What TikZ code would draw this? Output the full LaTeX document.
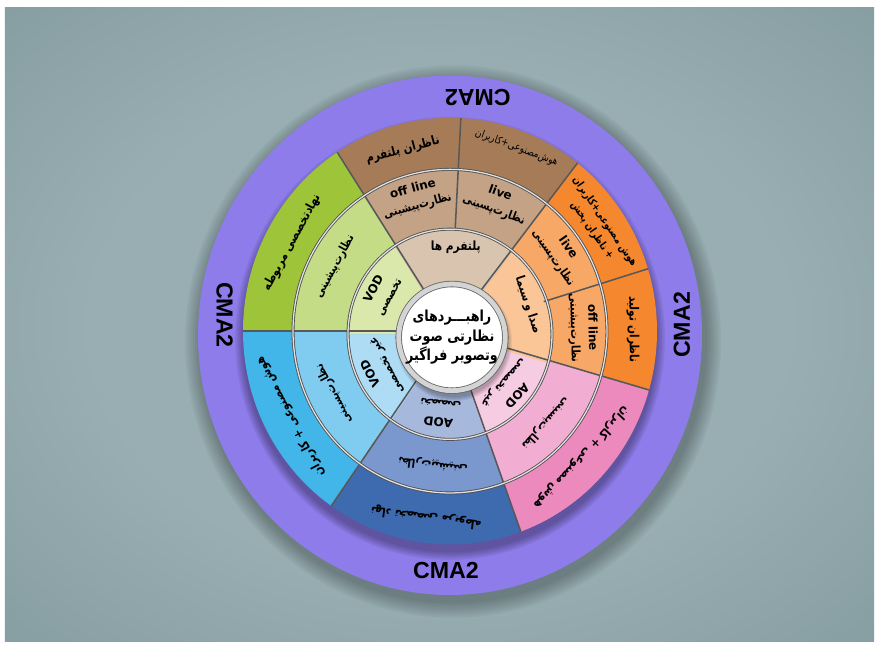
\documentclass[tikz,border=0pt]{standalone}
\usepackage{fontspec}
\setmainfont{DejaVu Sans}
\newfontfamily\fafont[Script=Arabic, FakeStretch=0.84]{DejaVu Sans}
\newfontfamily\cmafont{Liberation Sans}
\TeXXeTstate=1
\newcommand{\fa}[1]{{\fafont\beginR #1\endR}}

\definecolor{bgin}{RGB}{152,174,178}
\definecolor{bgout}{RGB}{118,142,148}
\definecolor{bgcorner}{RGB}{100,122,128}
\definecolor{cmadark}{RGB}{142,124,234}
\definecolor{cmalight}{RGB}{162,150,246}
\definecolor{brwnO}{RGB}{166,124,88}
\definecolor{brwnM}{RGB}{196,162,133}
\definecolor{brwnI}{RGB}{217,196,176}
\definecolor{grnO}{RGB}{158,196,58}
\definecolor{grnM}{RGB}{196,220,134}
\definecolor{grnI}{RGB}{218,232,172}
\definecolor{ltblO}{RGB}{66,182,232}
\definecolor{ltblM}{RGB}{128,204,240}
\definecolor{ltblI}{RGB}{174,220,245}
\definecolor{dkblO}{RGB}{62,106,176}
\definecolor{dkblM}{RGB}{122,151,206}
\definecolor{dkblI}{RGB}{166,184,220}
\definecolor{pnkO}{RGB}{236,138,190}
\definecolor{pnkM}{RGB}{242,174,210}
\definecolor{pnkI}{RGB}{246,204,226}
\definecolor{orngO}{RGB}{245,136,46}
\definecolor{orngM}{RGB}{248,168,102}
\definecolor{orngI}{RGB}{250,198,152}

\pgfdeclareradialshading{bgglow}{\pgfpoint{0bp}{0bp}}{color(0bp)=(bgin); color(20bp)=(bgin); color(50bp)=(bgout); color(72bp)=(bgcorner)}
\pgfdeclareradialshading{ringglow}{\pgfpoint{0bp}{0bp}}{color(0bp)=(cmadark); color(40bp)=(cmadark); color(50bp)=(cmalight)}

\begin{document}
\begin{tikzpicture}[x=0.025cm, y=0.02575cm,
	spoke/.style={draw={rgb,255:red,88;green,88;blue,88}, line width=1.1pt},
	rim/.style={draw={rgb,255:red,80;green,80;blue,80}, double={rgb,255:red,225;green,225;blue,225}, double distance=0.9pt, line width=0.6pt},
	hub/.style={circle, fill=white, draw={rgb,255:red,105;green,105;blue,105}, double={rgb,255:red,212;green,212;blue,212}, double distance=3.4pt, line width=0.6pt, minimum size=72pt, inner sep=0pt, align=center, font=\fontsize{10.8}{14}\selectfont\bfseries},
	lblbig/.style={font=\fontsize{9}{13}\selectfont\bfseries, align=center, inner sep=0pt},
	lblmid/.style={font=\fontsize{8.5}{12.5}\selectfont\bfseries, align=center, inner sep=0pt},
	lblsmall/.style={font=\fontsize{7.5}{10.5}\selectfont, align=center, inner sep=0pt},
	cma/.style={font=\cmafont\fontsize{16.5}{18}\selectfont\bfseries, inner sep=0pt}]

\useasboundingbox (-450,-307.77) rectangle (429,321.36);
\fill[white] (-450,-307.77) rectangle (429,321.36);
\shade[shading=bgglow] (-445,-301) rectangle (424,313.6);

\foreach \k in {1,...,8} {
	\fill[black, opacity=0.035] (3,-10) circle ({252+2*\k}); }
\shade[shading=ringglow] (0,-4) circle (252);
\foreach \k in {1,...,6} {
	\fill[black, opacity=0.06] (0,-7) circle ({206+1.5*\k}); }

\foreach \a/\b/\c in {-16/17/orng,17/52/orng,52/87/brwn,87/123/brwn,123/180/grn,180/235/ltbl,235/290/dkbl,290/344/pnk} {
	\fill[fill=\c O] (0,0) -- (\a:207) arc[start angle=\a, end angle=\b, radius=207] -- cycle;
	\fill[fill=\c M] (0,0) -- (\a:157) arc[start angle=\a, end angle=\b, radius=157] -- cycle;
}

\foreach \a/\b/\c in {-16/52/orng,52/123/brwn,123/180/grn,180/235/ltbl,235/290/dkbl,290/344/pnk} {
	\fill[fill=\c I] (0,-3) -- ++(\a:102) arc[start angle=\a, end angle=\b, radius=102] -- cycle;
}

\foreach \a in {-16,52,123,180,235,290} {
	\draw[spoke] (\a:45) -- (\a:207); }
\foreach \a in {17,87} {
	\draw[spoke] (\a:98) -- (\a:207); }

\draw[rim] (0,0) circle (157);
\draw[rim] (0,-3) circle (102);

\foreach \k in {1,...,5} {
	\fill[black, opacity=0.06] (4,-10) circle ({53+\k}); }
\node(hub) [hub] at (2,-6) {\fa{راهبـــردهای}\\\fa{نظارتی صوت}\\\fa{وتصویر فراگیر}};

\node(out_or1)	[lblbig, rotate=-89.5]	at (0.5:183)	{\fa{ناظران تولید}};
\node(out_or2)	[lblsmall, font=\fontsize{7.5}{11}\selectfont\bfseries, rotate=-55.5]	at (34.5:180)	{\fa{هوش مصنوعی+کاربران}\\\fa{+ ناظران پخش}};
\node(out_br2)	[lblsmall, rotate=-20.5]	at (69.5:190)	{\fa{هوش^^^^200cمصنوعی+کاربران}};
\node(out_br1)	[lblbig, rotate=15]	at (105:182)	{\fa{ناظران پلتفرم}};
\node(out_gr)	[lblbig, rotate=61.5]	at (151.5:180)	{\fa{نهادتخصصی مربوطه}};
\node(out_lb)	[lblbig, rotate=117.5]	at (207.5:180)	{\fa{هوش مصنوعی + کاربران}};
\node(out_bl)	[lblbig, rotate=172.5]	at (262.5:182)	{\fa{نهاد تخصصی مربوطه}};
\node(out_pk)	[lblbig, rotate=227]	at (317:180)	{\fa{هوش مصنوعی + کاربران}};

\node(mid_or1)	[lblmid, rotate=-88.5]	at (1.5:133)	{off line\\\fa{نظارت^^^^200cپیشینی}};
\node(mid_or2)	[lblmid, rotate=-55.5]	at (34.5:134)	{live\\\fa{نظارت^^^^200cپسینی}};
\node(mid_br2)	[lblmid, rotate=-20.5]	at (69.5:134)	{live\\\fa{نظارت^^^^200cپسینی}};
\node(mid_br1)	[lblmid, rotate=15]	at (105:134)	{off line\\\fa{نظارت^^^^200cپیشینی}};
\node(mid_gr)	[lblmid, rotate=61.5]	at (151.5:131)	{\fa{نظارت^^^^200cپیشینی}};
\node(mid_lb)	[lblmid, rotate=117.5]	at (207.5:131)	{\fa{نظارت^^^^200cپسینی}};
\node(mid_bl)	[lblmid, rotate=172.5]	at (262.5:131)	{\fa{نظارت^^^^200cپیشینی}};
\node(mid_pk)	[lblmid, rotate=227]	at (317:131)	{\fa{نظارت^^^^200cپسینی}};

\node(inn_or)	[lblbig, rotate=-72]	at (18:82)	{\fa{صدا و سیما}};
\node(inn_br)	[lblbig]	at (86:82)	{\fa{پلتفرم ها}};
\node(inn_gr)	[lblmid, rotate=61.5]	at (151.5:78)	{VOD\\\fa{تخصصی}};
\node(inn_lb)	[lblmid, rotate=117.5]	at (207.5:80)	{VOD\\\fa{غیر تخصصی}};
\node(inn_bl)	[lblmid, rotate=172.5]	at (262.5:80)	{AOD\\\fa{تخصصی}};
\node(inn_pk)	[lblmid, rotate=227]	at (317:82)	{AOD\\\fa{غیر تخصصی}};

\node(cma_t)	[cma, rotate=180]	at (83:228)	{CMA2};
\node(cma_r)	[cma, rotate=90]	at (1.5:232)	{CMA2};
\node(cma_b)	[cma]	at (-91:232)	{CMA2};
\node(cma_l)	[cma, rotate=-90]	at (176:226)	{CMA2};

\end{tikzpicture}
\end{document}
